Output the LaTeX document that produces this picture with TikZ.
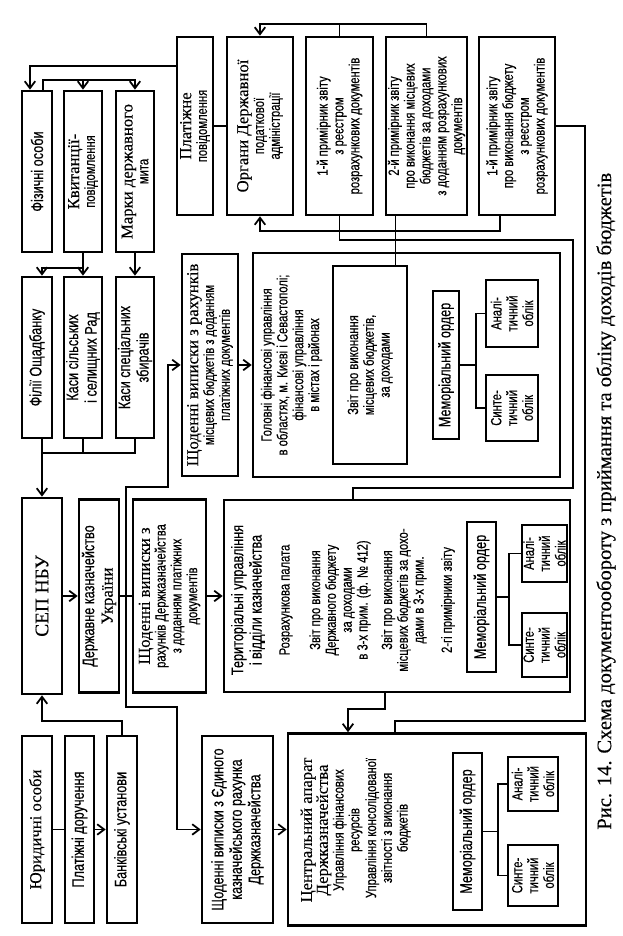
\documentclass[tikz,border=0pt]{standalone}
\usepackage{fontspec}
\setmainfont{Liberation Serif}[FakeBold=0.3]
\newfontfamily\narrowsf[FakeStretch=0.76,FakeBold=0.4]{Liberation Sans}
\usetikzlibrary{arrows.meta,calc}

\newcommand\pxunit{0.02cm}
\newcommand\hdfont{\rmfamily\fontsize{9.5}{10.5}\selectfont}

\begin{document}
\begin{tikzpicture}[x=0.02cm, y=0.02cm,
  box/.style={draw, line width=1.5pt, align=center, inner sep=0pt, font=\narrowsf\fontsize{8.4}{9}\selectfont},
  big font/.style={font=\narrowsf\fontsize{9.5}{10.5}\selectfont},
  note/.style={align=center, inner sep=0pt, font=\narrowsf\fontsize{8.4}{9}\selectfont},
  wh/.style 2 args={minimum width=#1*\pxunit, minimum height=#2*\pxunit},
  link/.style={line width=1pt},
  flow/.style={line width=1pt, -{Straight Barb[length=4pt,width=6pt]}}
]

% the page is set landscape and turned a quarter round
\useasboundingbox (-622,0) rectangle (0,936);

\begin{scope}[rotate=90, transform shape]

% -----------------------------------------------------------------------------
% Tax bodies and the report copies (upper right).
% -----------------------------------------------------------------------------
\node[box, wh={178}{36}] (plat) at (810,427) {{\hdfont Платіжне}\\повідомлення};
\node[box, wh={178}{66}] (organy) at (810,362) {{\hdfont Органи Державної}\\податкової\\адміністрації};
\node[box, wh={178}{67}] (prim1) at (810,282.5) {1-й примірник звіту\\з реєстром\\розрахункових документів};
\node[box, wh={178}{81}] (prim2) at (810,195.5) {2-й примірник звіту\\про виконання місцевих\\бюджетів за доходами\\з доданням розрахункових\\документів};
\node[box, wh={178}{76}] (prim3) at (810,105) {1-й примірник звіту\\про виконання бюджету\\з реєстром\\розрахункових документів};

% -----------------------------------------------------------------------------
% Individuals and cash desks.
% -----------------------------------------------------------------------------
\node[box, big font, wh={161}{30}] (fiz) at (764.5,585) {Фізичні особи};
\node[box, wh={161}{38}] (kvyt) at (764.5,539) {{\hdfont Квитанції-}\\повідомлення};
\node[box, wh={161}{38}] (marky) at (764.5,487) {{\hdfont Марки державного}\\мита};
\node[box, big font, wh={161}{30}] (filii) at (578.5,585) {Філії Ощадбанку};
\node[box, big font, wh={161}{38}] (kasy1) at (578.5,539) {Каси сільських\\і селищних Рад};
\node[box, big font, wh={161}{38}] (kasy2) at (578.5,487) {Каси спеціальних\\збирачів};

% -----------------------------------------------------------------------------
% Payment system and treasury.
% -----------------------------------------------------------------------------
\node[box, wh={196}{40}] (sep) at (340,580) {\rmfamily\fontsize{11}{12}\selectfont СЕП НБУ};
\node[box, big font, wh={193}{40}] (derzh) at (340,523) {Державне казначейство\\{\hdfont України}};
\node[box, wh={193}{73}] (vypDk) at (340,452.5) {{\hdfont Щоденні виписки з}\\рахунків Держказначейства\\з доданням платіжних\\документів};
\node[box, wh={222}{56}] (vypMb) at (571,412) {{\hdfont Щоденні виписки з рахунків}\\місцевих бюджетів з доданням\\платіжних документів};

% -----------------------------------------------------------------------------
% Legal entities.
% -----------------------------------------------------------------------------
\node[box, wh={187}{30}] (yur) at (106.5,585) {\hdfont Юридичні особи};
\node[box, big font, wh={187}{29}] (dor) at (106.5,542.5) {Платіжні доручення};
\node[box, big font, wh={187}{30}] (bank) at (106.5,500) {Банківські установи};
\node[box, big font, wh={187}{71}] (vypEkr) at (106.5,384.5) {Щоденні виписки з Єдиного\\казначейського рахунка\\Держказначейства};

% -----------------------------------------------------------------------------
% Financial departments.
% -----------------------------------------------------------------------------
\node[box, wh={224}{307}] (golovni) at (571,215.5) {};
\node[note] (golovniTitle) at (571,330.5) {Головні фінансові управління\\в областях, м. Києві і Севастополі;\\фінансові управління\\в містах і районах};
\node[box, wh={198}{74}] (zvitMb) at (571,252) {Звіт про виконання\\місцевих бюджетів,\\за доходами};
\node[box, big font, wh={148}{26}] (mem1) at (571,176) {Меморіальний ордер};
\node[box, wh={67}{52}] (anal1) at (622.5,110) {Аналі-\\тичний\\облік};
\node[box, wh={66}{52}] (synt1) at (528,110) {Синте-\\тичний\\облік};

% -----------------------------------------------------------------------------
% Territorial treasury.
% -----------------------------------------------------------------------------
\node[box, wh={192}{346}] (ter) at (340,225) {};
\node[note, big font] (terTitle) at (336,374) {Територіальні управління\\і відділи казначейства};
\node[note] (terPalata) at (336,336) {Розрахункова палата};
\node[note] (terZvitDb) at (336,282) {Звіт про виконання\\Державного бюджету\\за доходами\\в 3-х прим. (ф. № 412)};
\node[note] (terZvitMb) at (336,218) {Звіт про виконання\\місцевих бюджетів за дохо-\\дами в 3-х прим.};
\node[note] (terPrim) at (336,174) {2-гі примірники звіту};
\node[box, big font, wh={150}{29}] (mem2) at (339,140.5) {Меморіальний ордер};
\node[box, wh={57}{45}] (anal2) at (382.5,77.5) {Аналі-\\тичний\\облік};
\node[box, wh={64}{45}] (synt2) at (291,77.5) {Синте-\\тичний\\облік};

% -----------------------------------------------------------------------------
% Central office.
% -----------------------------------------------------------------------------
\node[box, wh={192}{298}] (central) at (106.5,185) {};
\node[note] (centralTitle) at (106,290.5) {{\hdfont Центральний апарат}\\{\hdfont Держказначейства}\\Управління фінансових\\ресурсів};
\node[note] (centralUpr) at (108,234) {Управління консолідованої\\звітності з виконання\\бюджетів};
\node[box, big font, wh={157}{29}] (mem3) at (104.5,154.5) {Меморіальний ордер};
\node[box, wh={54}{50}] (anal3) at (152,89) {Аналі-\\тичний\\облік};
\node[box, wh={61}{50}] (synt3) at (60.5,89) {Синте-\\тичний\\облік};

\node[font=\rmfamily\fontsize{11.7}{13}\selectfont, inner sep=0pt, anchor=west] (caption) at (106,16) {Рис. 14. Схема документообороту з приймання та обліку доходів бюджетів};

% -----------------------------------------------------------------------------
% Connections.
% -----------------------------------------------------------------------------
\coordinate (dkJoint) at ($(derzh.south)!.5!(vypDk.north)$);
\coordinate (rightBend) at (215,37);
\coordinate (leftBendA) at (696,49);
\coordinate (leftBendB) at (448,49);

\draw[link] (plat.south) -- (organy.north);
\draw[flow] (prim2.east) -- ++(12,0) |- (organy.east);
\draw[link] (prim1.east) -- ++(12,0);
\draw[flow] ($(prim3.west)+(0,17)$) -- ++(-15,0) |- (organy.west);
\draw[link] ($(prim2.west)+(0,31)$) coordinate (p2out) -- (p2out -| zvitMb.east);
\draw[link] (prim1.west) -| (leftBendA) -- (leftBendB) |- ($(ter.east)+(0,44)$);
\draw[link] (prim3.south) |- (rightBend) |- ($(central.east)+(0,42)$);

\draw[flow] ($(plat.north)+(60,0)$) |- ($(fiz.east)+(0,7)$);
\draw[flow] ($(fiz.east)+(0,-6)$) -- ++(10,0) |- (marky.east);
\draw[flow] ($(fiz.east)+(10,-6)$) |- (kvyt.east);
\draw[flow] (kvyt.west) -- (kasy1.east);
\draw[flow] ($(kvyt.west)+(-15,0)$) |- ($(filii.east)+(0,-5)$);
\draw[flow] (marky.west) -- (kasy2.east);

\draw[flow] ($(filii.west)+(0,-5)$) -- (sep.east);
\draw[link] (kasy2.west) -- ++(-14,0) |- ($(filii.west)+(0,-5)$);
\draw[link] (kasy1.west) -- ++(-14,0);

\draw[flow] (sep.south) -- (derzh.north);
\draw[link] (derzh.south) -- (vypDk.north);
\draw[flow] (dkJoint) -- ++(109,0) -- ++(0,-42) -| (vypMb.north);
\draw[flow] (dkJoint) -- ++(-111,0) -- ++(0,-51) -| (vypEkr.north);
\draw[flow] (vypMb.south) -- (golovni.north);
\draw[flow] (vypDk.south) -- (ter.north);

\draw[link] (yur.south) -- (dor.north);
\draw[flow] (dor.south) -- (bank.north);
\draw[flow] (bank.east) -- ++(14,0) |- (sep.west);
\draw[flow] (vypEkr.south) -- (central.north);
\draw[flow] ($(ter.west)+(0,12)$) -- ++(-16,0) |- ($(central.east)+(0,89)$);

% memorial order trees
\draw[link] (mem1.south) -- ++(0,-16) coordinate (memJoint1);
\draw[link] (anal1.north) |- (memJoint1) -| (synt1.north);
\draw[link] (mem2.south) -- ++(0,-12) coordinate (memJoint2);
\draw[link] (anal2.north) |- (memJoint2) -| (synt2.north);
\draw[link] (mem3.south) -- ++(0,-15) coordinate (memJoint3);
\draw[link] (anal3.north) |- (memJoint3) -| (synt3.north);

\end{scope}
\end{tikzpicture}
\end{document}
